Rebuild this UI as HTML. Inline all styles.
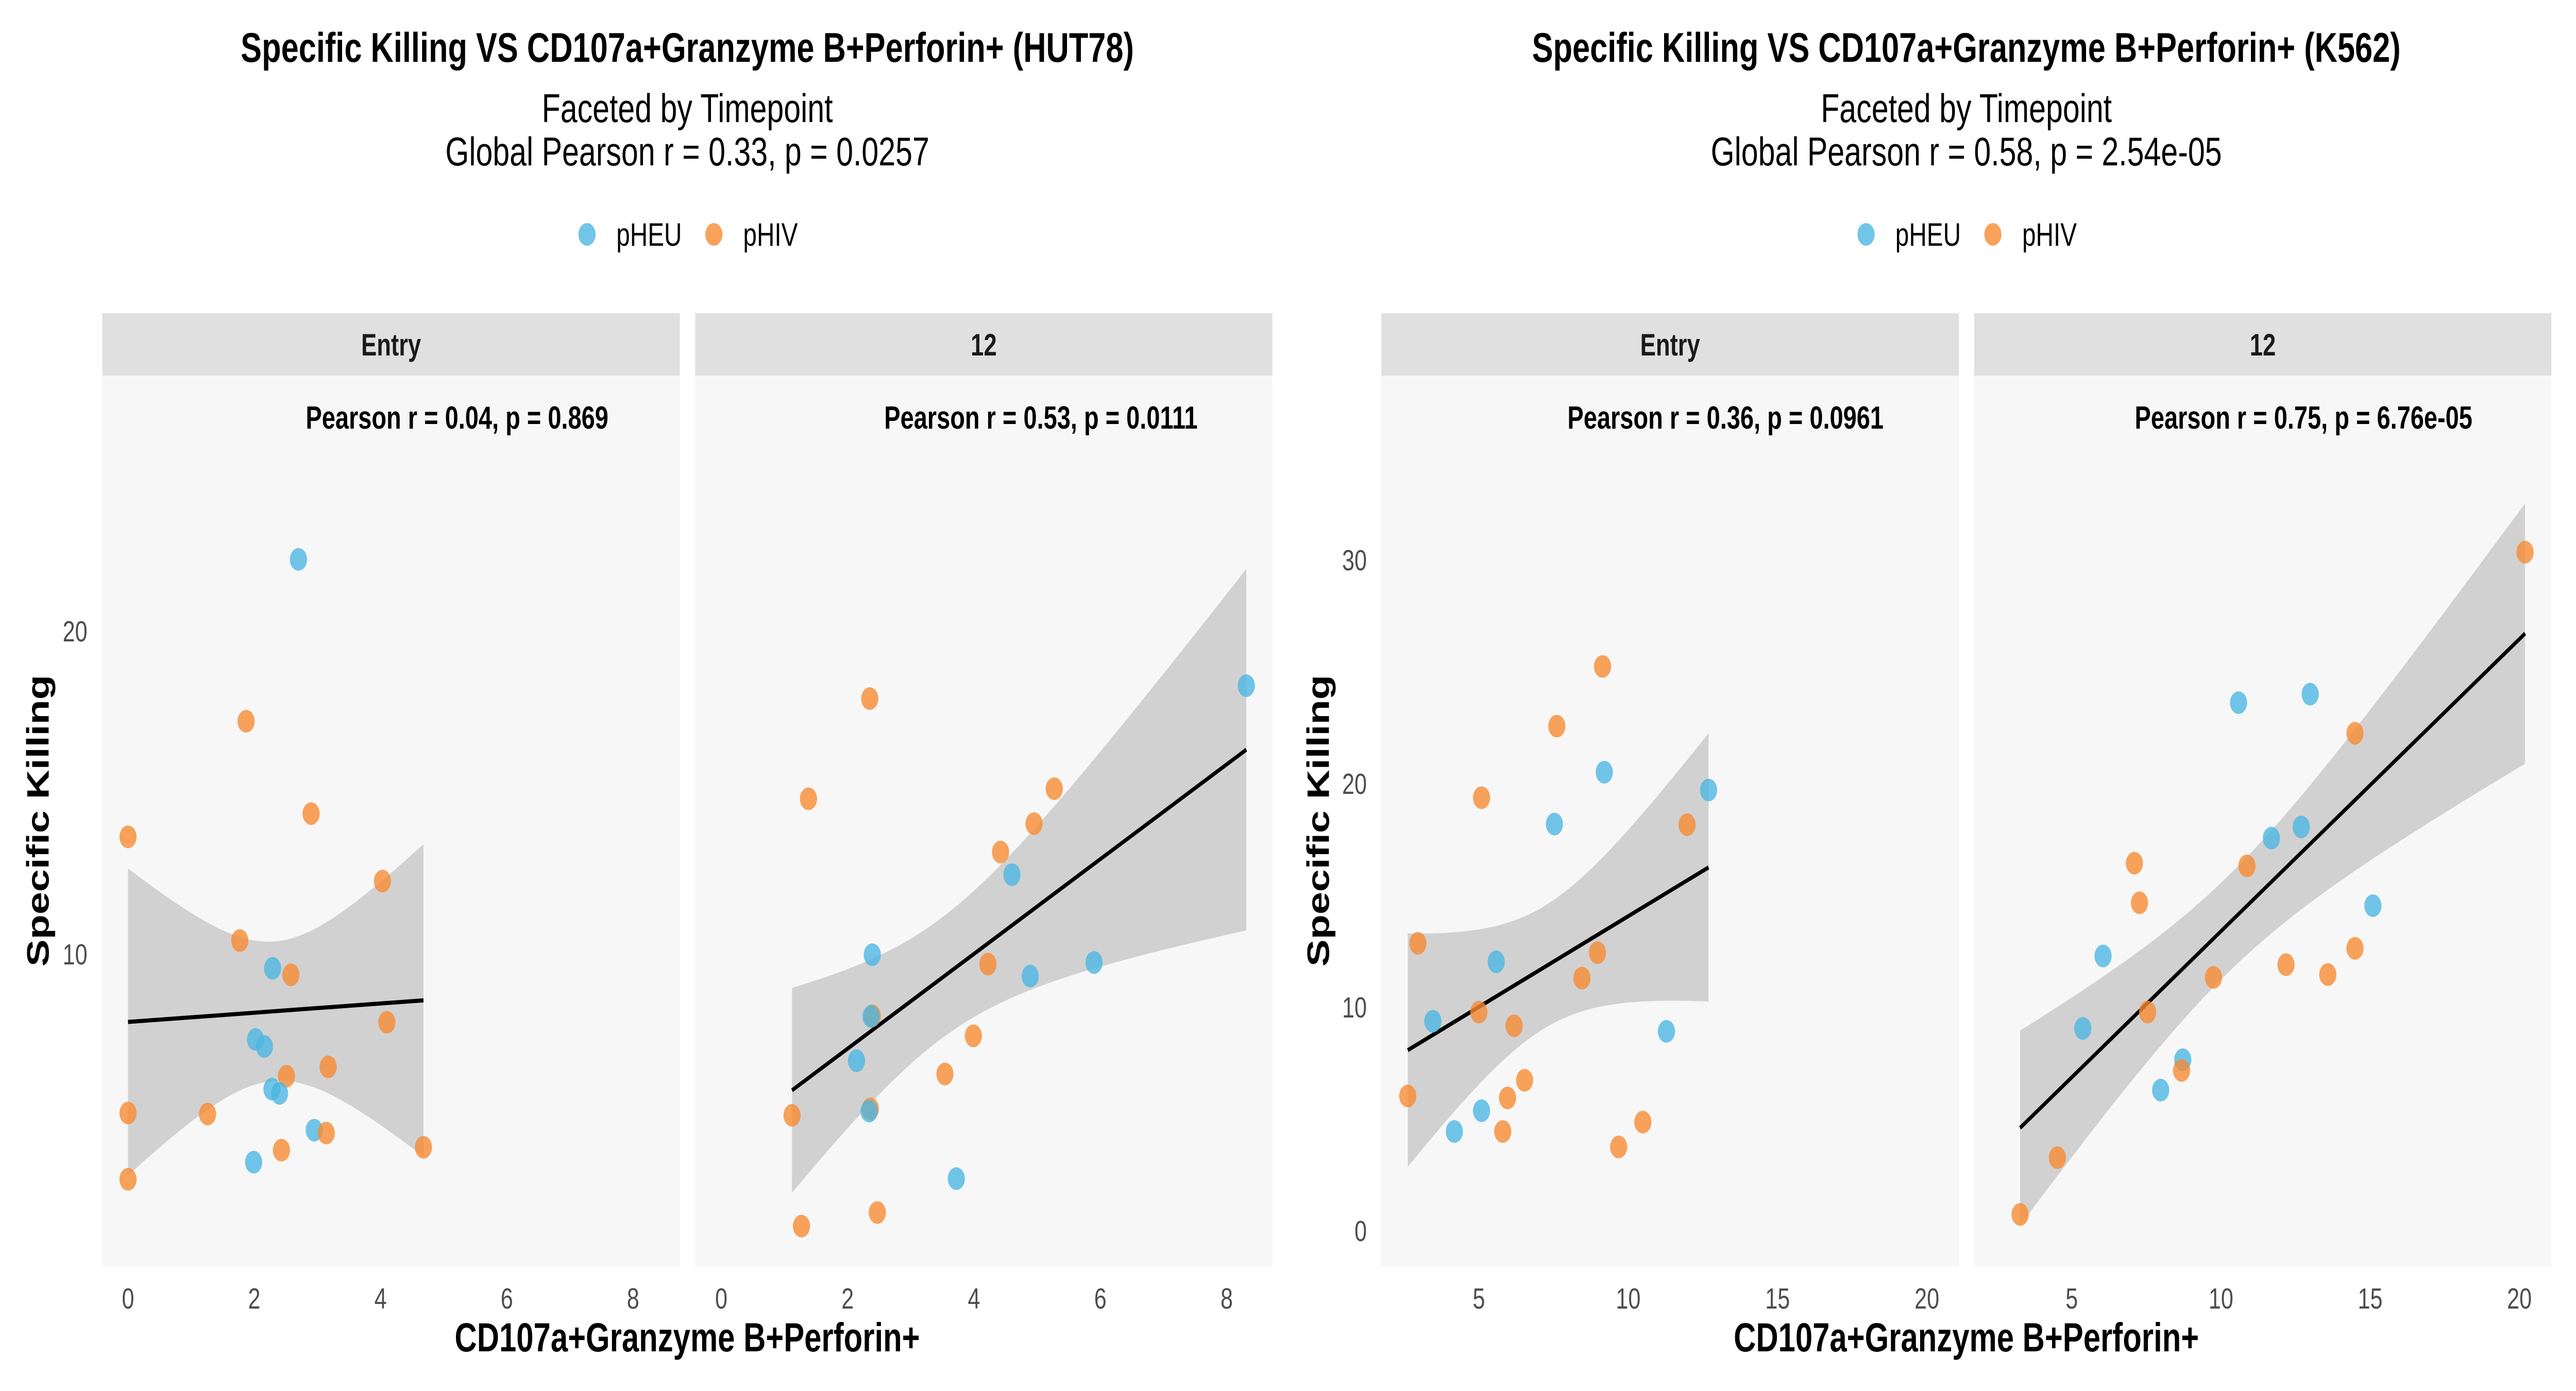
<!DOCTYPE html>
<html><head><meta charset="utf-8">
<style>
html,body{margin:0;padding:0;background:#fff;overflow:hidden;width:100vw;height:100vh;}
svg{display:block;width:100vw;height:100vh;font-family:"Liberation Sans",Arial,sans-serif;}
</style></head>
<body>
<svg id="chart" viewBox="0 0 6600 2700" preserveAspectRatio="none" xmlns="http://www.w3.org/2000/svg">
  <rect width="6600" height="2700" fill="#ffffff"/>
</svg>
<script>
// ---------- DATA ----------
// HUT78 Entry
const hutEntryX = [2.70,1.87,2.90,0,4.03,1.77,2.29,2.58,2.02,2.16,4.10,3.17,2.51,2.28,2.40,0,1.26,2.95,3.14,4.68,2.43,1.99,0];
const hutEntryY = [22.22,17.21,14.35,13.63,12.26,10.42,9.56,9.36,7.36,7.14,7.89,6.51,6.22,5.82,5.69,5.08,5.05,4.55,4.46,4.02,3.93,3.56,3.03];
const hutEntryG = ["pHEU","pHIV","pHIV","pHIV","pHIV","pHIV","pHEU","pHIV","pHEU","pHEU","pHIV","pHIV","pHIV","pHEU","pHEU","pHIV","pHIV","pHEU","pHIV","pHIV","pHIV","pHEU","pHIV"];
// HUT78 12
const hut12X = [8.31,2.35,1.38,5.27,4.95,4.42,4.60,2.39,4.22,4.89,5.90,2.39,2.37,2.14,3.99,3.54,1.12,2.36,2.34,3.72,2.47,1.27];
const hut12Y = [18.31,17.91,14.81,15.12,14.04,13.16,12.46,9.98,9.69,9.32,9.74,8.09,8.07,6.70,7.47,6.29,5.01,5.21,5.14,3.05,2.00,1.58];
const hut12G = ["pHEU","pHIV","pHIV","pHIV","pHIV","pHIV","pHEU","pHEU","pHIV","pHEU","pHEU","pHIV","pHEU","pHEU","pHIV","pHIV","pHIV","pHIV","pHEU","pHEU","pHIV","pHIV"];
// K562 Entry
const kEntryX = [9.14,7.61,9.20,5.09,12.69,7.53,11.97,2.96,5.58,8.97,8.45,3.46,5.00,6.18,11.28,6.53,2.62,5.96,5.09,4.18,5.80,10.49,9.68];
const kEntryY = [25.24,22.57,20.51,19.37,19.71,18.19,18.16,12.86,12.03,12.44,11.30,9.37,9.78,9.17,8.92,6.73,6.03,5.94,5.37,4.44,4.44,4.86,3.75];
const kEntryG = ["pHIV","pHIV","pHEU","pHIV","pHEU","pHEU","pHIV","pHIV","pHEU","pHIV","pHIV","pHEU","pHIV","pHIV","pHEU","pHIV","pHIV","pHIV","pHEU","pHEU","pHIV","pHIV","pHIV"];
// K562 12
const k12X = [20.19,12.99,10.59,14.49,12.69,11.69,10.87,7.10,7.27,15.09,6.05,14.49,12.18,13.58,9.75,7.54,5.37,8.72,8.68,7.98,4.52,3.27];
const k12Y = [30.35,24.00,23.62,22.25,18.06,17.56,16.32,16.44,14.67,14.54,12.29,12.63,11.90,11.46,11.33,9.78,9.05,7.65,7.17,6.29,3.27,0.73];
const k12G = ["pHIV","pHEU","pHEU","pHIV","pHEU","pHEU","pHIV","pHIV","pHIV","pHEU","pHEU","pHIV","pHIV","pHIV","pHIV","pHIV","pHEU","pHEU","pHIV","pHEU","pHIV","pHIV"];

const hutXTicks = [0,2,4,6,8];
const hutYTicks = [10,20];
const kXTicks = [5,10,15,20];
const kYTicks = [0,10,20,30];
const stripLabels = ["Entry","12","Entry","12"];
const panelLabels = ["Pearson r = 0.04, p = 0.869","Pearson r = 0.53, p = 0.0111","Pearson r = 0.36, p = 0.0961","Pearson r = 0.75, p = 6.76e-05"];
const legendLabels = ["pHEU","pHIV"];

// ---------- RENDER ----------
const NS = "http://www.w3.org/2000/svg";
const svg = document.getElementById("chart");
const COL = {pHEU:"#4cb7e2", pHIV:"#f68b33"};
function mk(tag, attrs, parent){
  const e = document.createElementNS(NS, tag);
  for (const k in attrs) e.setAttribute(k, attrs[k]);
  (parent||svg).appendChild(e);
  return e;
}
function txt(s, attrs, parent){ const e = mk("text", attrs, parent); e.textContent = s; return e; }

const STRIP_TOP = 608, PTOP = 729, PBOT = 2458;

function linScale(d0,d1,r0,r1){ return v => r0 + (v-d0)*(r1-r0)/(d1-d0); }

function fit(xs, ys){
  const n = xs.length;
  const mx = xs.reduce((a,b)=>a+b,0)/n, my = ys.reduce((a,b)=>a+b,0)/n;
  let sxx=0, sxy=0;
  for (let i=0;i<n;i++){ sxx += (xs[i]-mx)**2; sxy += (xs[i]-mx)*(ys[i]-my); }
  const b = sxy/sxx, a = my - b*mx;
  let sse=0; for (let i=0;i<n;i++) sse += (ys[i]-a-b*xs[i])**2;
  const s = Math.sqrt(sse/(n-2));
  const t = 2.08;
  return {a,b,s,mx,sxx,n,t};
}

function panel(opts){
  const {name, left, right, sx, sy, xs, ys, gs, strip, label, labelX, xTicks, yTicks, showY, yTickRight} = opts;
  const g = mk("g", {});
  
  
  const bg = mk("rect", {x:left, y:PTOP, width:right-left, height:PBOT-PTOP, fill:"#f7f7f7"}, g);
  
  
  const st = mk("rect", {x:left, y:STRIP_TOP, width:right-left, height:PTOP-STRIP_TOP, fill:"#e0e0e0"}, g);
  
  
  const stt = txt(strip, {x:(left+right)/2, y:690, "text-anchor":"middle", "font-size":60, "font-weight":"bold", fill:"#1a1a1a"}, g);
  
  

  xTicks.forEach(v=>{
    const t = txt(String(v), {x:sx(v), y:2540, "text-anchor":"middle", "font-size":57, fill:"#4d4d4d"}, g);
    
    
  });
  if (showY){
    yTicks.forEach(v=>{
      const t = txt(String(v), {x:yTickRight, y:sy(v)+20, "text-anchor":"end", "font-size":57, fill:"#4d4d4d"}, g);
      
      
    });
  }

  const f = fit(xs, ys);
  const xmin = Math.min(...xs), xmax = Math.max(...xs);
  const up=[], lo=[];
  for (let i=0;i<=80;i++){
    const x = xmin + (xmax-xmin)*i/80;
    const yh = f.a + f.b*x;
    const se = f.s*Math.sqrt(1/f.n + (x-f.mx)**2/f.sxx);
    up.push([sx(x), sy(yh + f.t*se)]);
    lo.push([sx(x), sy(yh - f.t*se)]);
  }
  const pts = up.concat(lo.reverse()).map(p=>p[0].toFixed(1)+","+p[1].toFixed(1)).join(" ");
  const rib = mk("polygon", {points:pts, fill:"#999999", "fill-opacity":0.4}, g);
  
  
  const ln = mk("line", {x1:sx(xmin), y1:sy(f.a+f.b*xmin), x2:sx(xmax), y2:sy(f.a+f.b*xmax), stroke:"#000", "stroke-width":8}, g);
  
  

  xs.forEach((x,i)=>{
    const c = mk("circle", {cx:sx(x), cy:sy(ys[i]), r:22, fill:COL[gs[i]], "fill-opacity":0.8}, g);
    
    
  });

  const pl = txt(label, {x:labelX, y:832, "text-anchor":"middle", "font-size":62, "font-weight":"bold", fill:"#000"}, g);
  
  
}

const hutSy = linScale(10,20,1852,1225);
const p1x = linScale(0,8,328,1622);
const p2x = linScale(0,8,1848,3143);
panel({name:"panel-hut78-entry", left:262, right:1742, sx:p1x, sy:hutSy, xs:hutEntryX, ys:hutEntryY, gs:hutEntryG, strip:stripLabels[0], label:panelLabels[0], labelX:1171, xTicks:hutXTicks, yTicks:hutYTicks, showY:true, yTickRight:224});
panel({name:"panel-hut78-12", left:1781, right:3260, sx:p2x, sy:hutSy, xs:hut12X, ys:hut12Y, gs:hut12G, strip:stripLabels[1], label:panelLabels[1], labelX:2667, xTicks:hutXTicks, yTicks:hutYTicks, showY:false});

const kSy = linScale(0,30,2389,1087);
const p3x = linScale(5,20,3789,4937);
const p4x = linScale(5,20,5308,6455);
panel({name:"panel-k562-entry", left:3539, right:5019, sx:p3x, sy:kSy, xs:kEntryX, ys:kEntryY, gs:kEntryG, strip:stripLabels[2], label:panelLabels[2], labelX:4421, xTicks:kXTicks, yTicks:kYTicks, showY:true, yTickRight:3502});
panel({name:"panel-k562-12", left:5058, right:6537, sx:p4x, sy:kSy, xs:k12X, ys:k12Y, gs:k12G, strip:stripLabels[3], label:panelLabels[3], labelX:5902, xTicks:kXTicks, yTicks:kYTicks, showY:false});

function header(cx, title, sub2, nm){
  const t = txt(title, {x:cx, y:120, "text-anchor":"middle", "font-size":81, "font-weight":"bold", fill:"#000"});
  
  
  const s1 = txt("Faceted by Timepoint", {x:cx, y:237, "text-anchor":"middle", "font-size":78, fill:"#000"});
  
  
  const s2 = txt(sub2, {x:cx, y:321, "text-anchor":"middle", "font-size":78, fill:"#000"});
  
  
  const lg = mk("g", {});
  
  
  const off = cx - 1761;
  legendLabels.forEach((lab,i)=>{
    const x0 = [1504,1829][i] + off;
    const c = mk("circle", {cx:x0, cy:455, r:22, fill:COL[lab], "fill-opacity":0.8}, lg);
    
    
    const t2 = txt(lab, {x:x0+75, y:477, "font-size":63, fill:"#000"}, lg);
    
    
  });
  const xt = txt("CD107a+Granzyme B+Perforin+", {x:cx, y:2623, "text-anchor":"middle", "font-size":79, "font-weight":"bold", fill:"#000"});
  
  
}
header(1761, "Specific Killing VS CD107a+Granzyme B+Perforin+ (HUT78)", "Global Pearson r = 0.33, p = 0.0257", "hut78");
header(5038, "Specific Killing VS CD107a+Granzyme B+Perforin+ (K562)", "Global Pearson r = 0.58, p = 2.54e-05", "k562");

const yt1 = txt("Specific Killing", {x:0, y:0, "text-anchor":"middle", "font-size":79, "font-weight":"bold", fill:"#000", transform:"translate(125,1593) rotate(-90)"});


const yt2 = txt("Specific Killing", {x:0, y:0, "text-anchor":"middle", "font-size":79, "font-weight":"bold", fill:"#000", transform:"translate(3405,1593) rotate(-90)"});


</script>
</body></html>
